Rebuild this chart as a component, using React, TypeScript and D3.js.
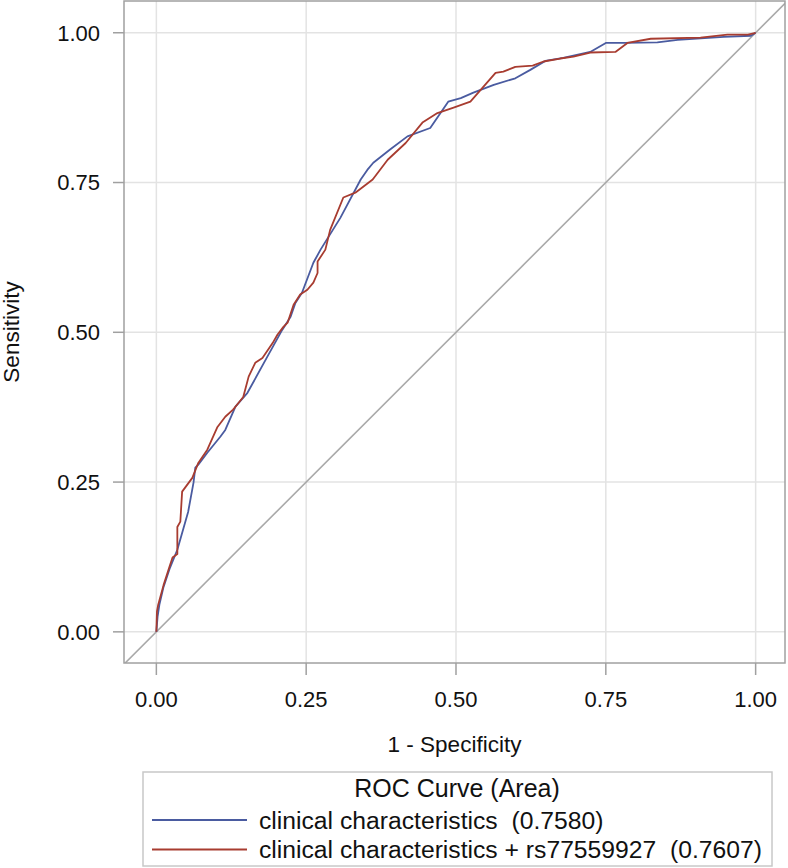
import React from "react";
import * as d3 from "d3";

// ---- Data ----
const xTicks = [0, 0.25, 0.5, 0.75, 1];
const yTicks = [0, 0.25, 0.5, 0.75, 1];
const tickLabels = ["0.00", "0.25", "0.50", "0.75", "1.00"];

const seriesNames = [
  "clinical characteristics  (0.7580)",
  "clinical characteristics + rs77559927  (0.7607)",
];
const legendTitle = "ROC Curve (Area)";
const xLabel = "1 - Specificity";
const yLabel = "Sensitivity";

// blue: clinical characteristics  [fpr, tpr]
const clinicalFpr = [0, 0.002, 0.005, 0.012, 0.022, 0.035, 0.053, 0.062, 0.065, 0.07, 0.085, 0.107, 0.115, 0.132, 0.152, 0.185, 0.21, 0.224, 0.232, 0.243, 0.262, 0.274, 0.307, 0.341, 0.352, 0.362, 0.39, 0.419, 0.457, 0.487, 0.508, 0.529, 0.563, 0.599, 0.624, 0.649, 0.679, 0.724, 0.75, 0.78, 0.836, 0.87, 0.947, 0.992, 1];
const clinicalTpr = [0, 0.025, 0.045, 0.075, 0.105, 0.137, 0.2, 0.249, 0.274, 0.279, 0.299, 0.326, 0.337, 0.376, 0.399, 0.459, 0.504, 0.526, 0.549, 0.566, 0.616, 0.638, 0.691, 0.755, 0.771, 0.783, 0.805, 0.827, 0.841, 0.885, 0.891, 0.9, 0.913, 0.924, 0.938, 0.953, 0.958, 0.968, 0.983, 0.983, 0.984, 0.988, 0.993, 0.995, 1];

// red: clinical characteristics + rs77559927
const snpFpr = [0, 0.001, 0.003, 0.012, 0.022, 0.027, 0.035, 0.035, 0.04, 0.043, 0.06, 0.07, 0.085, 0.102, 0.115, 0.128, 0.137, 0.145, 0.154, 0.165, 0.177, 0.194, 0.202, 0.212, 0.219, 0.229, 0.24, 0.252, 0.262, 0.269, 0.269, 0.282, 0.29, 0.312, 0.332, 0.361, 0.386, 0.416, 0.444, 0.469, 0.496, 0.524, 0.566, 0.579, 0.599, 0.628, 0.646, 0.674, 0.696, 0.724, 0.766, 0.786, 0.825, 0.908, 0.953, 0.987, 1];
const snpTpr = [0, 0.034, 0.045, 0.078, 0.109, 0.124, 0.13, 0.175, 0.184, 0.234, 0.257, 0.282, 0.304, 0.342, 0.359, 0.371, 0.382, 0.392, 0.426, 0.449, 0.457, 0.482, 0.496, 0.509, 0.516, 0.546, 0.563, 0.571, 0.583, 0.599, 0.618, 0.638, 0.671, 0.725, 0.733, 0.755, 0.788, 0.816, 0.85, 0.866, 0.875, 0.885, 0.933, 0.935, 0.943, 0.945, 0.952, 0.957, 0.96, 0.967, 0.968, 0.983, 0.99, 0.992, 0.997, 0.997, 1];

const colors = ["#4a5ba0", "#a83c30"];

export default function App() {
  const W = 788;
  const H = 868;
  const left = 124, right = 785, top = 1, bottom = 663;
  const x = d3.scaleLinear().domain([-0.054, 1.049]).range([left, right]);
  const y = d3.scaleLinear().domain([-0.052, 1.053]).range([bottom, top]);

  const series = [
    clinicalFpr.map((v, i) => [v, clinicalTpr[i]] as [number, number]),
    snpFpr.map((v, i) => [v, snpTpr[i]] as [number, number]),
  ];
  const line = d3
    .line<[number, number]>()
    .x((d) => x(d[0]))
    .y((d) => y(d[1]));

  const font = "'Liberation Sans', Arial, sans-serif";
  const diag: [number, number][] = [
    [-0.06, -0.06],
    [1.06, 1.06],
  ];

  return (
    <svg
      width={W}
      height={H}
      style={{ position: "absolute", left: 0, top: 0, background: "#fff" }}
      fontFamily={font}
    >
      <defs>
        <clipPath id="plotclip">
          <rect x={left} y={top} width={right - left} height={bottom - top} />
        </clipPath>
      </defs>
      <rect x={0} y={0} width={W} height={H} fill="#fff" />
      {/* grid */}
      {xTicks.map((t) => (
        <line key={"gx" + t} x1={x(t)} x2={x(t)} y1={top} y2={bottom} stroke="#e3e3e3" strokeWidth={1.5} />
      ))}
      {yTicks.map((t) => (
        <line key={"gy" + t} x1={left} x2={right} y1={y(t)} y2={y(t)} stroke="#e3e3e3" strokeWidth={1.5} />
      ))}
      {/* diagonal */}
      <g clipPath="url(#plotclip)">
        <path d={line(diag) || ""} fill="none" stroke="#a9a9a9" strokeWidth={1.6} />
        {series.map((s, i) => (
          <path key={i} d={line(s) || ""} fill="none" stroke={colors[i]} strokeWidth={1.8} strokeLinejoin="round" />
        ))}
      </g>
      {/* frame */}
      <rect x={left} y={top} width={right - left} height={bottom - top} fill="none" stroke="#a0a0a0" strokeWidth={1.5} />
      {/* y axis */}
      {yTicks.map((t, i) => (
        <g key={"yt" + t}>
          <line x1={113} x2={left} y1={y(t)} y2={y(t)} stroke="#a0a0a0" strokeWidth={1.5} />
          <text x={100} y={y(t)} dy="0.36em" textAnchor="end" fontSize={22} fill="#111">
            {tickLabels[i]}
          </text>
        </g>
      ))}
      {/* x axis */}
      {xTicks.map((t, i) => (
        <g key={"xt" + t}>
          <line x1={x(t)} x2={x(t)} y1={bottom} y2={675} stroke="#a0a0a0" strokeWidth={1.5} />
          <text x={x(t)} y={707} textAnchor="middle" fontSize={22} fill="#111">
            {tickLabels[i]}
          </text>
        </g>
      ))}
      <text x={(left + right) / 2} y={752} textAnchor="middle" fontSize={22.5} fill="#111">
        {xLabel}
      </text>
      <text
        transform={`translate(19, ${(top + bottom) / 2}) rotate(-90)`}
        textAnchor="middle"
        fontSize={22.5}
        fill="#111"
      >
        {yLabel}
      </text>
      {/* legend */}
      <rect x={143} y={772} width={629} height={94} fill="#fff" stroke="#c8c8c8" strokeWidth={1.5} />
      <text x={457} y={797} textAnchor="middle" fontSize={25} fill="#111">
        {legendTitle}
      </text>
      {seriesNames.map((n, i) => (
        <g key={n}>
          <line x1={152} x2={247} y1={820 + i * 29.5} y2={820 + i * 29.5} stroke={colors[i]} strokeWidth={2} />
          <text x={259} y={828.5 + i * 29.5} fontSize={24.7} fill="#111" style={{ whiteSpace: "pre" }}>
            {n}
          </text>
        </g>
      ))}
    </svg>
  );
}
